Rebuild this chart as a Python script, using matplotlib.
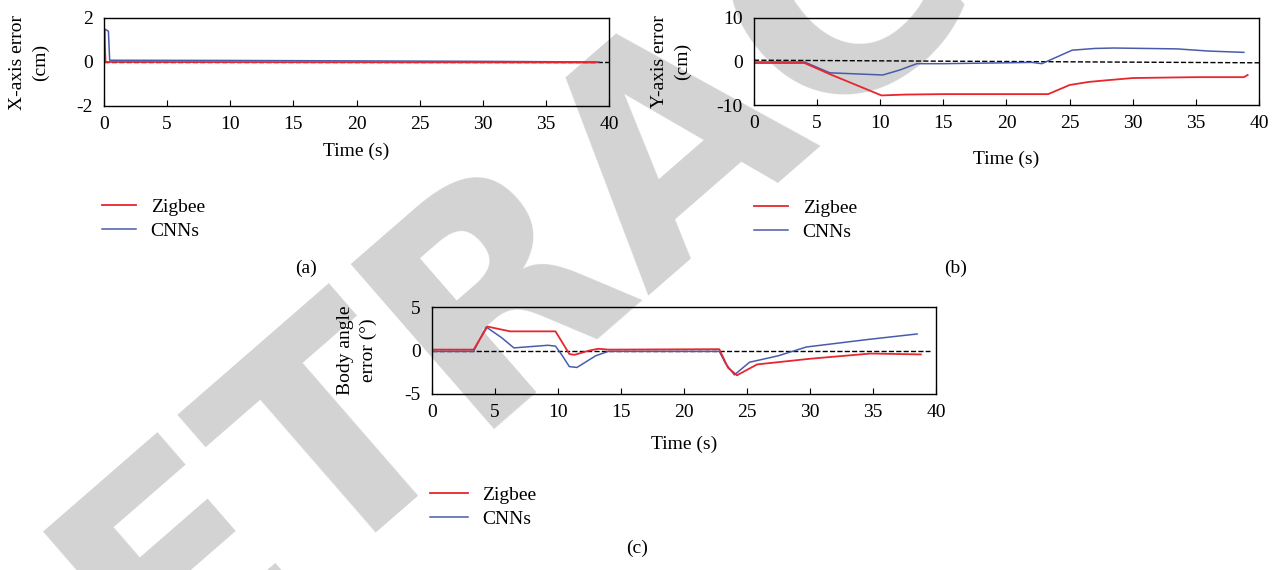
import numpy as np
import matplotlib
matplotlib.use("Agg")
from matplotlib import pyplot as plt

plt.rcParams['font.family'] = ['Liberation Serif', 'DejaVu Serif']
plt.rcParams['font.size'] = 14

# panel (a) - X-axis error
ta_zig = [0, 0.02, 0.12, 39.0]
xa_zig = [0, 1.5, 0.0, -0.02]
ta_cnn = [0, 0.05, 0.35, 0.45, 10, 20, 30, 39.2]
xa_cnn = [0, 1.5, 1.4, 0.08, 0.07, 0.05, 0.03, 0.0]

# panel (b) - Y-axis error
tb_zig = [0, 4.0, 6.0, 10.1, 12, 15, 20, 23.3, 25.0, 26.5, 28, 30, 35, 38.8, 39.1]
yb_zig = [-0.35, -0.35, -2.9, -7.8, -7.6, -7.5, -7.5, -7.5, -5.4, -4.7, -4.3, -3.8, -3.6, -3.6, -3.1]
tb_cnn = [0, 4.0, 6.0, 10.2, 11.5, 12.9, 15, 20, 22, 22.8, 25.2, 27, 28.5, 33.5, 36, 38.8]
yb_cnn = [-0.1, -0.1, -2.6, -3.1, -2.0, -0.5, -0.5, -0.3, -0.2, -0.5, 2.6, 3.0, 3.1, 2.9, 2.4, 2.1]
tb_ref = [0, 40]
yb_ref = [0.3, -0.3]

# panel (c) - body angle error
tc_zig = [0, 3.3, 4.4, 6.2, 9.8, 10.9, 11.3, 12.5, 13.2, 14, 22.8, 23.5, 24.2, 25.8, 30, 34.8, 38.8]
ac_zig = [0.1, 0.1, 2.75, 2.2, 2.2, -0.4, -0.5, 0.0, 0.2, 0.1, 0.15, -2.0, -2.85, -1.6, -0.95, -0.35, -0.45]
tc_cnn = [0, 3.3, 4.3, 5.5, 6.5, 9.2, 9.8, 10.3, 10.9, 11.5, 13, 14, 22.8, 23.3, 24.0, 25.2, 27.5, 29.7, 34.5, 38.5]
ac_cnn = [-0.1, -0.1, 2.7, 1.5, 0.3, 0.6, 0.5, -0.5, -1.85, -1.95, -0.6, -0.1, -0.1, -1.5, -2.8, -1.35, -0.6, 0.4, 1.25, 1.9]
tc_ref = [0, 39.5]
ac_ref = [0, 0]

red = '#e8262d'
blue = '#4b5bab'
W, H = 1277, 570

fig = plt.figure(figsize=(W / 100, H / 100), dpi=100)

# big grey watermark, behind everything
fig.text(0.53, 0.76, 'RETRACTED', fontsize=215, fontweight='bold', family='DejaVu Sans',
         color='#d3d3d3', rotation=41, ha='center', va='center', zorder=-10)


def box(x0, y0, x1, y1):
    return [x0 / W, 1 - y1 / H, (x1 - x0) / W, (y1 - y0) / H]


def setup(ax, ylim, yticks, ylab, labx, xlab_pad):
    ax.set_facecolor('none')
    ax.set_xlim(0, 40)
    ax.set_ylim(*ylim)
    ax.set_xticks(range(0, 41, 5))
    ax.set_yticks(yticks)
    ax.tick_params(axis='x', direction='in', length=4, pad=7, width=0.8)
    ax.tick_params(axis='y', length=0, pad=8)
    ax.set_yticklabels([str(v) for v in yticks])
    for s in ax.spines.values():
        s.set_linewidth(1.0)
    ax.set_xlabel('Time (s)', labelpad=xlab_pad)
    ax.set_ylabel(ylab, linespacing=1.45, va='center')
    ax.yaxis.set_label_coords(labx, 0.5)


def legend(ax, x, y, hl):
    h, l = ax.get_legend_handles_labels()
    fig.legend(h[::-1], l[::-1], loc='upper left', bbox_to_anchor=(x / W, 1 - y / H),
               frameon=False, handlelength=hl, handletextpad=0.75, labelspacing=0.35,
               borderpad=0, borderaxespad=0)


# (a)
ax1 = fig.add_axes(box(104, 18, 609, 106))
ax1.plot([0, 40], [0, 0], 'k--', lw=1.0)
ax1.plot(ta_cnn, xa_cnn, color=blue, lw=1.1, label='CNNs')
ax1.plot(ta_zig, xa_zig, color=red, lw=1.3, label='Zigbee')
setup(ax1, (-2, 2), [-2, 0, 2], 'X-axis error\n(cm)', -75 / 505, 7)
legend(ax1, 102, 198, 1.75)
fig.text(306 / W, 1 - 268 / H, '(a)', ha='center', va='center')

# (b)
ax2 = fig.add_axes(box(754, 18, 1259, 105))
ax2.plot(tb_ref, yb_ref, 'k--', lw=1.0)
ax2.plot(tb_cnn, yb_cnn, color=blue, lw=1.1, label='CNNs')
ax2.plot(tb_zig, yb_zig, color=red, lw=1.3, label='Zigbee')
setup(ax2, (-10, 10), [-10, 0, 10], 'Y-axis error\n(cm)', -83 / 505, 14)
legend(ax2, 754, 199, 1.75)
fig.text(956 / W, 1 - 268 / H, '(b)', ha='center', va='center')

# (c)
ax3 = fig.add_axes(box(432, 307, 936, 394))
ax3.plot(tc_ref, ac_ref, 'k--', lw=1.0)
ax3.plot(tc_cnn, ac_cnn, color=blue, lw=1.1, label='CNNs')
ax3.plot(tc_zig, ac_zig, color=red, lw=1.3, label='Zigbee')
setup(ax3, (-5, 5), [-5, 0, 5], 'Body angle\nerror (°)', -75 / 504, 11)
legend(ax3, 430, 486, 1.95)
fig.text(637 / W, 1 - 548 / H, '(c)', ha='center', va='center')

fig.savefig('out.png', dpi=100)
